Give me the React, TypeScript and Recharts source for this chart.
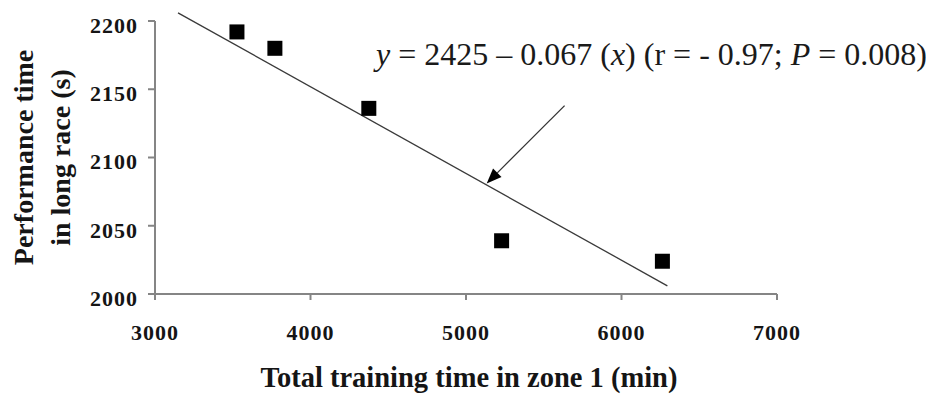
import React from 'react';
import { ScatterChart, Scatter, XAxis, YAxis, ReferenceLine, Label } from 'recharts';

const xValues = [3527, 3771, 4375, 5229, 6263];
const yValues = [2192, 2180, 2136, 2039, 2024];
const xTicks = [3000, 4000, 5000, 6000, 7000];
const yTicks = [2000, 2050, 2100, 2150, 2200];
const fitStart = { x: 3148, y: 2206 };
const fitEnd = { x: 6295, y: 2006 };
const arrowFrom = { x: 5634, y: 2138 };
const arrowTo = { x: 5133, y: 2081 };
const xTitle = 'Total training time in zone 1 (min)';
const yTitleLines = ['Performance time', 'in long race (s)'];

const points = xValues.map((x, i) => ({ x, y: yValues[i] }));

const FONT = '"Liberation Serif", "Times New Roman", Times, serif';
const AX = '#858585';
const INK = '#151515';

const Square = (p: any) => {
  const s = 15;
  return <rect x={p.cx - s / 2} y={p.cy - s / 2} width={s} height={s} fill="#000" />;
};

const Arrow = (p: any) => {
  const { x1, y1, x2, y2 } = p;
  const dx = x2 - x1;
  const dy = y2 - y1;
  const len = Math.sqrt(dx * dx + dy * dy) || 1;
  const ux = dx / len;
  const uy = dy / len;
  const hl = 15;
  const hw = 6;
  const bx = x2 - ux * hl;
  const by = y2 - uy * hl;
  const pts = `${x2},${y2} ${bx - uy * hw},${by + ux * hw} ${bx + uy * hw},${by - ux * hw}`;
  return (
    <g>
      <line x1={x1} y1={y1} x2={bx} y2={by} stroke="#333" strokeWidth={1.3} />
      <polygon points={pts} fill="#000" />
    </g>
  );
};

const XTitle = (props: any) => {
  const vb = props.viewBox || { x: 155, y: 294, width: 622, height: 100 };
  return (
    <text
      x={vb.x + vb.width / 2 + 3}
      y={vb.y + vb.height - 7}
      textAnchor="middle"
      fontFamily={FONT}
      fontSize={28.5}
      fontWeight={700}
      fill={INK}
    >
      {xTitle}
    </text>
  );
};

const YTitle = (props: any) => {
  const vb = props.viewBox || { x: 0, y: 21, width: 155, height: 273 };
  const cy = vb.y + vb.height / 2;
  const xs = [vb.x + 33, vb.x + 70];
  return (
    <g>
      {yTitleLines.map((t, i) => (
        <text
          key={i}
          x={xs[i]}
          y={cy}
          transform={`rotate(-90, ${xs[i]}, ${cy})`}
          textAnchor="middle"
          fontFamily={FONT}
          fontSize={28}
          fontWeight={700}
          fill={INK}
        >
          {t}
        </text>
      ))}
    </g>
  );
};

const XTick = (p: any) => (
  <text
    x={p.x}
    y={p.y}
    dy="0.71em"
    textAnchor="middle"
    fontFamily={FONT}
    fontSize={22}
    fontWeight={700}
    letterSpacing={1}
    fill={INK}
  >
    {p.payload.value}
  </text>
);

const YTick = (p: any) => (
  <text
    x={p.x}
    y={p.y + 4}
    dy="0.355em"
    textAnchor="end"
    fontFamily={FONT}
    fontSize={22}
    fontWeight={700}
    letterSpacing={1}
    fill={INK}
  >
    {p.payload.value}
  </text>
);

export default function App() {
  return (
    <div style={{ position: 'absolute', left: 0, top: 0, width: 926, height: 394, background: '#fff' }}>
      <ScatterChart width={926} height={394} margin={{ top: 21, right: 149, bottom: 0, left: 0 }}>
        <XAxis
          type="number"
          dataKey="x"
          domain={[3000, 7000]}
          ticks={xTicks}
          interval={0}
          height={100}
          allowDataOverflow
          axisLine={{ stroke: AX, strokeWidth: 2 }}
          tickLine={{ stroke: AX, strokeWidth: 2 }}
          tickSize={6}
          tickMargin={24}
          tick={XTick}
        >
          <Label content={XTitle} />
        </XAxis>
        <YAxis
          type="number"
          dataKey="y"
          domain={[2000, 2200]}
          ticks={yTicks}
          interval={0}
          width={155}
          allowDataOverflow
          axisLine={{ stroke: AX, strokeWidth: 2 }}
          tickLine={{ stroke: AX, strokeWidth: 2 }}
          tickSize={7}
          tickMargin={10}
          tick={YTick}
        >
          <Label content={YTitle} />
        </YAxis>
        <ReferenceLine
          segment={[fitStart, fitEnd]}
          stroke="#3a3a3a"
          strokeWidth={1.3}
          ifOverflow="visible"
        />
        <ReferenceLine segment={[arrowFrom, arrowTo]} ifOverflow="visible" shape={Arrow} />
        <Scatter data={points} isAnimationActive={false} shape={Square} fill="#000" />
      </ScatterChart>
      <svg width={926} height={394} style={{ position: 'absolute', left: 0, top: 0, pointerEvents: 'none' }}>
        <text x={376} y={65} fontFamily={FONT} fontSize={32} fill="#1a1a1a">
          <tspan fontStyle="italic">y</tspan>
          {' = 2425 \u2013 0.067 ('}
          <tspan fontStyle="italic">x</tspan>
          {') (r = - 0.97; '}
          <tspan fontStyle="italic">P</tspan>
          {' = 0.008)'}
        </text>
      </svg>
    </div>
  );
}
